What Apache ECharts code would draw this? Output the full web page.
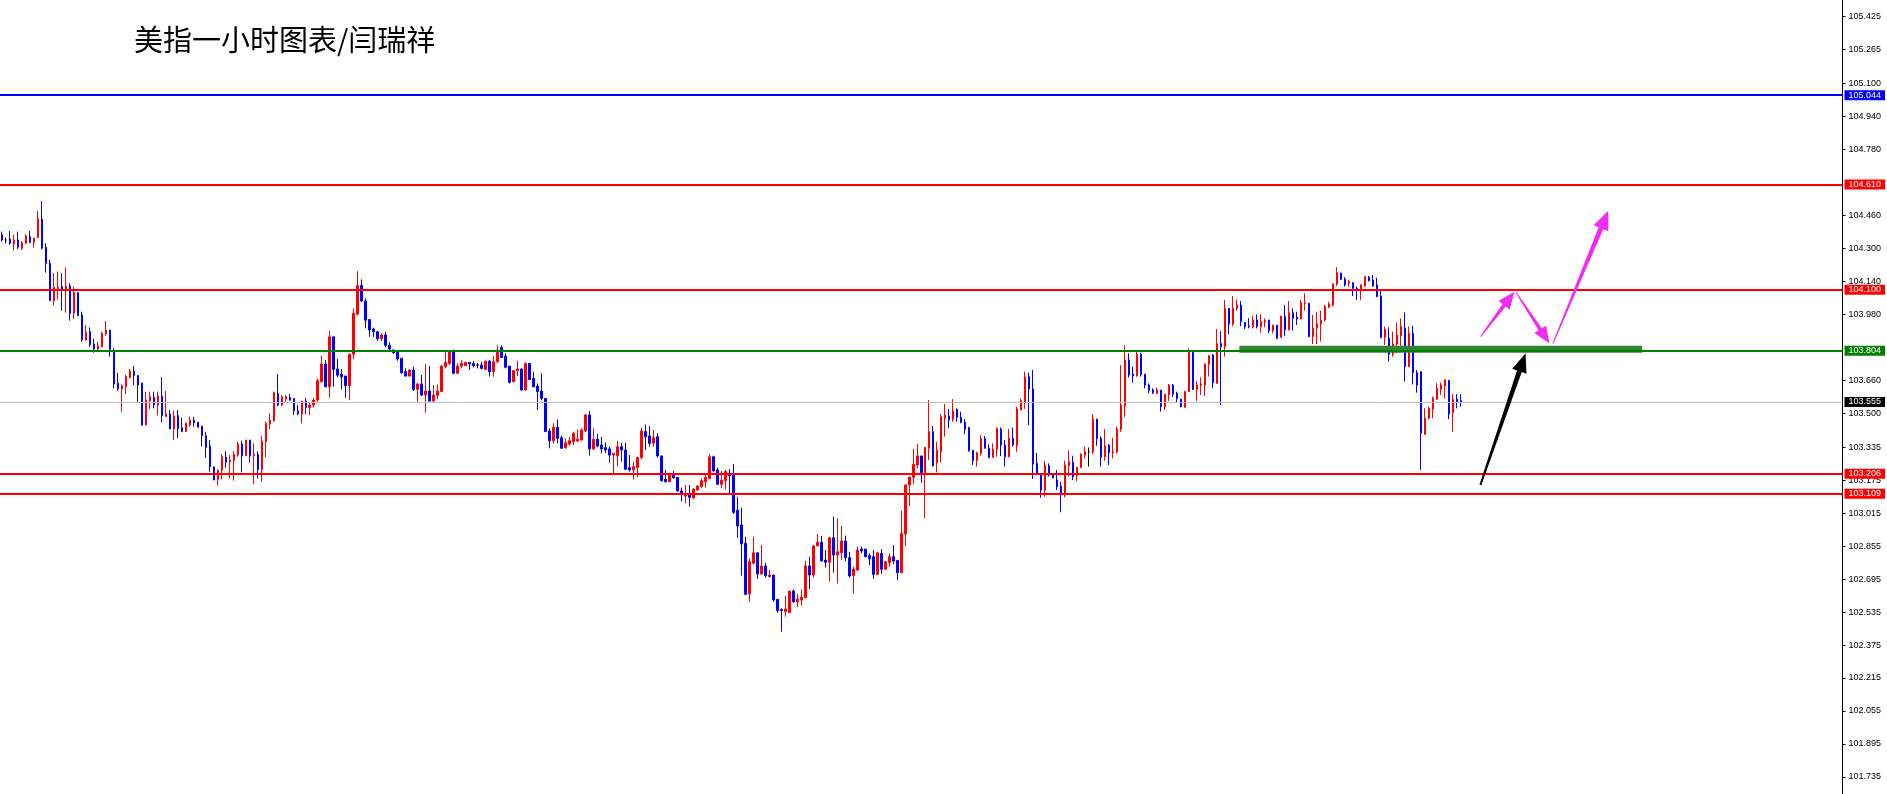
<!DOCTYPE html>
<html>
<head>
<meta charset="utf-8">
<script src="https://cdn.jsdelivr.net/npm/echarts@6/dist/echarts.min.js"></script>
<style>
html,body{margin:0;padding:0;background:#ffffff;}
#chart{width:1887px;height:794px;}
</style>
</head>
<body>
<div id="chart"></div>
<script>
// ---------- DATA (hourly candles) ----------
const opens = [
104.366,104.341,104.346,104.322,104.341,104.301,104.325,104.357,104.330,104.353,
104.442,104.306,104.228,104.047,104.105,104.115,104.102,104.118,103.985,104.086,
103.977,103.856,103.896,103.836,103.812,103.823,103.885,103.904,103.807,103.646,
103.618,103.629,103.673,103.705,103.683,103.646,103.443,103.560,103.578,103.540,
103.584,103.484,103.497,103.424,103.489,103.430,103.411,103.443,103.467,103.456,
103.438,103.391,103.342,103.240,103.179,103.224,103.286,103.265,103.270,103.297,
103.350,103.294,103.370,103.294,103.300,103.227,103.362,103.448,103.464,103.596,
103.540,103.569,103.577,103.572,103.512,103.496,103.559,103.528,103.540,103.564,
103.653,103.739,103.629,103.871,103.715,103.690,103.681,103.634,103.787,103.981,
104.120,104.045,103.955,103.909,103.896,103.862,103.880,103.830,103.807,103.799,
103.767,103.702,103.681,103.710,103.616,103.642,103.589,103.608,103.559,103.587,
103.605,103.726,103.742,103.799,103.694,103.729,103.731,103.747,103.742,103.734,
103.734,103.713,103.753,103.702,103.750,103.820,103.778,103.729,103.653,103.707,
103.715,103.613,103.742,103.669,103.632,103.608,103.572,103.414,103.367,103.432,
103.381,103.333,103.351,103.362,103.365,103.370,103.414,103.492,103.327,103.374,
103.346,103.333,103.327,103.297,103.294,103.338,103.322,103.236,103.225,103.236,
103.285,103.411,103.390,103.354,103.386,103.293,103.181,103.168,103.200,103.189,
103.123,103.098,103.111,103.090,103.128,103.144,103.168,103.184,103.289,103.225,
103.155,103.173,103.209,103.200,103.030,102.958,102.869,102.623,102.772,102.823,
102.720,102.759,102.707,102.715,102.597,102.548,102.537,102.532,102.637,102.585,
102.594,102.605,102.759,102.715,102.856,102.874,102.788,102.777,102.896,102.812,
102.823,102.880,102.799,102.712,102.739,102.841,102.841,102.809,102.804,102.718,
102.820,102.743,102.775,102.804,102.786,102.726,102.914,103.152,103.189,103.249,
103.293,103.212,103.330,103.411,103.260,103.313,103.475,103.486,103.470,103.519,
103.480,103.456,103.430,103.321,103.270,103.305,103.378,103.330,103.286,103.325,
103.423,103.346,103.289,103.378,103.342,103.516,103.556,103.677,103.618,103.257,
103.208,103.127,103.245,103.200,103.176,103.147,103.103,103.245,103.262,103.197,
103.237,103.297,103.313,103.313,103.472,103.378,103.289,103.346,103.308,103.313,
103.423,103.535,103.758,103.690,103.681,103.786,103.690,103.637,103.613,103.597,
103.613,103.532,103.589,103.637,103.597,103.569,103.529,103.605,103.796,103.616,
103.637,103.637,103.738,103.783,103.645,103.839,103.823,104.009,103.933,104.009,
104.025,103.941,103.923,103.920,103.953,103.920,103.943,103.953,103.901,103.928,
103.868,103.969,103.904,103.988,103.966,103.958,104.033,104.034,103.872,103.913,
103.934,103.953,104.016,104.026,104.128,104.180,104.150,104.131,104.134,104.107,
104.096,104.118,104.160,104.147,104.123,104.069,103.869,103.864,103.786,103.836,
103.877,103.913,103.726,103.888,103.697,103.702,103.399,103.476,103.521,103.568,
103.616,103.633,103.659,103.503,103.568,103.561
];
const closes = [
104.341,104.341,104.325,104.341,104.306,104.328,104.361,104.330,104.349,104.446,
104.301,104.228,104.047,104.112,104.112,104.102,104.118,103.985,104.086,103.974,
103.856,103.893,103.832,103.812,103.827,103.888,103.904,103.811,103.642,103.618,
103.633,103.678,103.705,103.683,103.637,103.443,103.565,103.581,103.540,103.584,
103.489,103.497,103.424,103.487,103.424,103.411,103.451,103.468,103.454,103.432,
103.391,103.334,103.240,103.176,103.224,103.289,103.262,103.273,103.300,103.350,
103.294,103.370,103.294,103.302,103.227,103.365,103.451,103.467,103.601,103.540,
103.580,103.580,103.564,103.512,103.496,103.559,103.528,103.540,103.564,103.658,
103.739,103.629,103.871,103.713,103.685,103.677,103.634,103.787,103.985,104.120,
104.045,103.952,103.904,103.896,103.862,103.880,103.830,103.812,103.794,103.763,
103.697,103.681,103.710,103.616,103.642,103.589,103.608,103.559,103.589,103.608,
103.729,103.747,103.799,103.694,103.729,103.742,103.747,103.739,103.731,103.734,
103.718,103.753,103.702,103.750,103.807,103.771,103.723,103.650,103.707,103.715,
103.613,103.742,103.664,103.629,103.605,103.572,103.411,103.367,103.432,103.378,
103.330,103.357,103.367,103.403,103.374,103.419,103.492,103.327,103.374,103.341,
103.327,103.322,103.297,103.306,103.338,103.322,103.228,103.225,103.241,103.285,
103.414,103.386,103.354,103.382,103.293,103.173,103.168,103.200,103.187,103.123,
103.108,103.111,103.092,103.132,103.147,103.173,103.189,103.289,103.220,103.155,
103.176,103.217,103.196,103.019,102.953,102.866,102.621,102.780,102.823,102.720,
102.759,102.712,102.715,102.594,102.542,102.542,102.550,102.637,102.585,102.598,
102.607,102.759,102.715,102.856,102.874,102.783,102.777,102.896,102.812,102.828,
102.880,102.799,102.710,102.744,102.836,102.831,102.804,102.793,102.718,102.823,
102.743,102.780,102.804,102.783,102.726,102.917,103.152,103.189,103.252,103.293,
103.212,103.335,103.411,103.245,103.321,103.483,103.491,103.467,103.511,103.480,
103.456,103.423,103.318,103.270,103.308,103.378,103.330,103.286,103.325,103.427,
103.346,103.289,103.378,103.346,103.521,103.561,103.677,103.618,103.253,103.205,
103.127,103.249,103.200,103.187,103.143,103.103,103.249,103.265,103.192,103.237,
103.302,103.313,103.313,103.472,103.378,103.286,103.341,103.308,103.313,103.423,
103.540,103.758,103.686,103.681,103.786,103.686,103.637,103.610,103.600,103.613,
103.532,103.593,103.637,103.593,103.572,103.532,103.605,103.796,103.616,103.637,
103.642,103.739,103.779,103.648,103.836,103.823,104.009,103.933,104.009,104.025,
103.945,103.920,103.920,103.953,103.920,103.945,103.950,103.901,103.928,103.864,
103.972,103.904,103.988,103.961,103.958,104.037,104.037,103.872,103.913,103.934,
103.953,104.018,104.031,104.128,104.183,104.150,104.123,104.139,104.107,104.096,
104.123,104.163,104.144,104.118,104.066,103.869,103.908,103.786,103.836,103.880,
103.921,103.726,103.888,103.697,103.637,103.403,103.476,103.524,103.573,103.621,
103.637,103.662,103.497,103.568,103.557,103.555
];
const lows = [
104.333,104.325,104.317,104.290,104.298,104.293,104.320,104.325,104.304,104.353,
104.296,104.183,104.047,104.023,104.053,103.998,103.989,103.950,103.958,103.974,
103.848,103.853,103.823,103.794,103.807,103.820,103.877,103.775,103.621,103.610,
103.508,103.592,103.670,103.637,103.553,103.440,103.443,103.521,103.524,103.489,
103.456,103.484,103.424,103.370,103.379,103.411,103.411,103.435,103.435,103.432,
103.338,103.284,103.216,103.176,103.148,103.179,103.236,103.184,103.173,103.289,
103.213,103.294,103.260,103.155,103.184,103.168,103.286,103.423,103.459,103.535,
103.535,103.556,103.561,103.491,103.491,103.451,103.496,103.491,103.528,103.556,
103.649,103.626,103.575,103.629,103.674,103.616,103.575,103.564,103.763,103.975,
104.040,103.912,103.871,103.871,103.850,103.850,103.820,103.800,103.788,103.755,
103.690,103.678,103.678,103.608,103.556,103.584,103.503,103.559,103.556,103.568,
103.605,103.718,103.734,103.689,103.690,103.718,103.729,103.710,103.723,103.718,
103.713,103.713,103.678,103.678,103.745,103.771,103.718,103.645,103.650,103.681,
103.610,103.610,103.661,103.626,103.516,103.564,103.411,103.330,103.354,103.354,
103.327,103.327,103.343,103.346,103.362,103.367,103.408,103.294,103.322,103.335,
103.306,103.306,103.260,103.200,103.241,103.265,103.225,103.217,103.179,103.189,
103.276,103.322,103.338,103.338,103.285,103.168,103.163,103.168,103.184,103.120,
103.071,103.063,103.047,103.082,103.123,103.139,103.139,103.179,103.217,103.155,
103.136,103.131,103.103,103.011,102.896,102.712,102.618,102.585,102.767,102.696,
102.718,102.702,102.702,102.585,102.532,102.440,102.513,102.532,102.580,102.561,
102.566,102.605,102.647,102.702,102.856,102.780,102.751,102.683,102.726,102.674,
102.788,102.783,102.702,102.626,102.734,102.820,102.801,102.763,102.696,102.718,
102.720,102.739,102.755,102.767,102.691,102.726,102.856,103.050,103.155,103.233,
103.163,102.990,103.273,103.241,103.213,103.262,103.386,103.427,103.459,103.459,
103.451,103.399,103.313,103.249,103.241,103.294,103.330,103.281,103.286,103.289,
103.292,103.241,103.286,103.338,103.313,103.516,103.521,103.443,103.181,103.200,
103.090,103.095,103.192,103.184,103.127,103.019,103.092,103.192,103.176,103.171,
103.233,103.281,103.241,103.302,103.342,103.241,103.270,103.249,103.281,103.305,
103.410,103.483,103.674,103.648,103.678,103.678,103.621,103.597,103.593,103.593,
103.508,103.516,103.559,103.580,103.551,103.529,103.527,103.605,103.613,103.559,
103.589,103.584,103.678,103.621,103.645,103.540,103.775,103.885,103.923,103.998,
103.923,103.909,103.912,103.912,103.912,103.891,103.917,103.888,103.888,103.859,
103.868,103.875,103.904,103.901,103.928,103.956,103.998,103.869,103.836,103.836,
103.848,103.945,104.010,104.018,104.118,104.147,104.115,104.115,104.069,104.050,
104.050,104.115,104.139,104.115,104.066,103.864,103.832,103.751,103.775,103.791,
103.827,103.654,103.726,103.640,103.600,103.225,103.395,103.471,103.476,103.565,
103.589,103.573,103.471,103.411,103.524,103.532
];
const highs = [
104.382,104.353,104.385,104.366,104.382,104.336,104.369,104.385,104.353,104.482,
104.531,104.325,104.244,104.180,104.188,104.180,104.207,104.131,104.115,104.086,
103.993,103.929,103.917,103.861,103.848,103.896,103.948,103.904,103.815,103.697,
103.641,103.686,103.715,103.730,103.683,103.649,103.605,103.605,103.605,103.605,
103.675,103.608,103.516,103.513,103.516,103.479,103.456,103.484,103.483,103.456,
103.438,103.410,103.370,103.240,103.227,103.302,103.316,103.297,103.316,103.362,
103.367,103.370,103.370,103.354,103.316,103.391,103.459,103.499,103.605,103.690,
103.588,103.588,103.593,103.572,103.540,103.559,103.575,103.551,103.575,103.669,
103.779,103.758,103.899,103.871,103.763,103.715,103.681,103.787,104.009,104.190,
104.150,104.058,103.955,103.915,103.900,103.890,103.895,103.845,103.810,103.800,
103.767,103.718,103.715,103.726,103.648,103.686,103.739,103.729,103.637,103.640,
103.734,103.799,103.802,103.810,103.742,103.758,103.750,103.747,103.754,103.745,
103.750,103.755,103.758,103.778,103.830,103.830,103.791,103.729,103.710,103.755,
103.718,103.747,103.742,103.702,103.645,103.694,103.572,103.427,103.451,103.470,
103.390,103.378,103.386,103.411,103.422,103.427,103.497,103.511,103.427,103.400,
103.386,103.359,103.338,103.306,103.365,103.357,103.357,103.297,103.265,103.289,
103.430,103.446,103.438,103.419,103.403,103.293,103.225,103.205,103.220,103.189,
103.139,103.152,103.152,103.136,103.152,103.184,103.200,103.302,103.294,103.236,
103.220,103.225,103.230,103.254,103.095,103.043,102.901,102.796,102.901,102.823,
102.861,102.775,102.739,102.715,102.597,102.553,102.613,102.637,102.645,102.623,
102.645,102.783,102.804,102.861,102.914,102.904,102.836,102.901,102.998,102.990,
102.953,102.906,102.828,102.755,102.853,102.853,102.841,102.820,102.836,102.828,
102.841,102.783,102.820,102.861,102.786,103.027,103.152,103.195,103.327,103.351,
103.293,103.335,103.564,103.438,103.362,103.496,103.545,103.521,103.569,103.524,
103.508,103.472,103.435,103.321,103.313,103.394,103.389,103.349,103.354,103.431,
103.431,103.370,103.423,103.431,103.532,103.572,103.702,103.697,103.710,103.308,
103.208,103.270,103.257,103.208,103.224,103.168,103.270,103.321,103.294,103.241,
103.305,103.338,103.334,103.496,103.472,103.389,103.423,103.350,103.381,103.435,
103.734,103.831,103.791,103.726,103.802,103.794,103.690,103.645,103.621,103.626,
103.613,103.593,103.642,103.642,103.605,103.569,103.610,103.815,103.796,103.658,
103.674,103.742,103.783,103.788,103.909,103.899,104.050,104.009,104.069,104.053,
104.045,103.941,103.961,103.972,103.980,103.980,103.961,103.953,103.928,103.928,
103.972,104.025,104.045,104.009,103.993,104.050,104.082,104.034,103.977,103.993,
103.998,104.026,104.042,104.131,104.209,104.183,104.160,104.147,104.136,104.115,
104.126,104.166,104.166,104.171,104.158,104.099,103.921,103.917,103.896,103.940,
103.961,103.990,103.921,103.924,103.710,103.702,103.524,103.532,103.581,103.646,
103.649,103.665,103.662,103.594,103.594,103.594
];

// bar slots on the time axis (candles + empty future hours up to the price scale)
const slotCount = 461;
const categories = Array.from({length: slotCount}, (_, i) => String(i));

// price-scale tick labels
const yTicks = [105.425,105.265,105.100,104.940,104.780,104.460,104.300,104.140,103.980,
  103.660,103.500,103.335,103.175,103.015,102.855,102.695,102.535,102.375,102.215,
  102.055,101.895,101.735];
const yMin = 101.652;
const yMax = 105.506;

// horizontal price levels
const levelValues = [105.044, 104.610, 104.100, 103.804, 103.555, 103.206, 103.109];

// support zone (bar index range, price range)
const zoneStart = [309.6];
const zoneEnd = [410.4];
const zoneLow = [103.794];
const zoneHigh = [103.828];

// arrows (bar index, price) from -> to
const arrowFromIdx = [369.95, 378.7, 388.05, 369.9];
const arrowFromPrice = [103.872, 104.090, 103.839, 103.152];
const arrowToIdx = [378.4, 387.2, 401.9, 381.2];
const arrowToPrice = [104.090, 103.839, 104.483, 103.791];

// ---------- STYLES ----------
const levelColors = ['#0000FF','#FF0000','#FF0000','#008000','#C0C0C0','#FF0000','#FF0000'];
const levelLabelBg = ['#0000FF','#FF0000','#FF0000','#008000','#000000','#FF0000','#FF0000'];
const levelWidths = [2,2,2,2,1,2,2];
const arrowColors = ['#F02CF0','#F02CF0','#F02CF0','#000000'];
const arrowGeom = [
  {tail:1, shaft:4, head:17, half:7},
  {tail:1, shaft:4, head:17, half:7},
  {tail:1, shaft:5, head:19, half:8},
  {tail:2, shaft:5, head:19, half:7.5}
];

const candleData = opens.map((o, i) => [o, closes[i], lows[i], highs[i]]);
const arrowData = arrowFromIdx.map((x, i) => [x, arrowFromPrice[i], arrowToIdx[i], arrowToPrice[i]]);
const zoneData = zoneStart.map((x, i) => [x, zoneLow[i], zoneEnd[i], zoneHigh[i]]);

function arrowPolygon(p0, p1, g) {
  const dx = p1[0] - p0[0], dy = p1[1] - p0[1];
  const L = Math.hypot(dx, dy);
  const ux = dx / L, uy = dy / L, nx = -uy, ny = ux;
  const bx = p1[0] - ux * g.head, by = p1[1] - uy * g.head;
  return [
    [p0[0] + nx * g.tail / 2, p0[1] + ny * g.tail / 2],
    [bx + nx * g.shaft / 2, by + ny * g.shaft / 2],
    [bx + nx * g.half, by + ny * g.half],
    [p1[0], p1[1]],
    [bx - nx * g.half, by - ny * g.half],
    [bx - nx * g.shaft / 2, by - ny * g.shaft / 2],
    [p0[0] - nx * g.tail / 2, p0[1] - ny * g.tail / 2]
  ];
}

const chart = echarts.init(document.getElementById('chart'), null, {renderer: 'canvas'});
chart.setOption({
  animation: false,
  backgroundColor: '#ffffff',
  title: {
    text: '美指一小时图表/闫瑞祥',
    left: 134, top: 25.5, padding: 0,
    textStyle: {fontFamily: 'Noto Sans CJK SC', fontSize: 29, lineHeight: 29, fontWeight: 'normal', color: '#000000'}
  },
  grid: {left: -1.5, right: 44.5, top: 0, bottom: 0, containLabel: false},
  xAxis: [
    {type: 'category', data: categories, boundaryGap: true, show: false},
    {type: 'value', min: -0.5, max: slotCount - 0.5, show: false}
  ],
  yAxis: {
    type: 'value', position: 'right', min: yMin, max: yMax,
    splitLine: {show: false},
    axisLine: {show: true, onZero: false, lineStyle: {color: '#000000', width: 1}},
    axisTick: {show: true, length: 3, customValues: yTicks, lineStyle: {color: '#000000'}},
    axisLabel: {
      customValues: yTicks, margin: 6, color: '#000000',
      fontFamily: 'Liberation Sans', fontSize: 9,
      formatter: v => v.toFixed(3)
    }
  },
  series: [
    {
      type: 'candlestick',
      xAxisIndex: 0, yAxisIndex: 0,
      data: candleData,
      barWidth: 2,
      silent: true,
      itemStyle: {
        color: '#FF0000', color0: '#0000FF',
        borderColor: '#FF0000', borderColor0: '#0000FF', borderColorDoji: '#000000',
        borderWidth: 1
      },
      markLine: {
        silent: true,
        symbol: ['none', 'none'],
        precision: 3,
        animation: false,
        data: levelValues.map((v, k) => ({
          yAxis: v,
          lineStyle: {color: levelColors[k], width: levelWidths[k], type: 'solid'},
          label: {
            show: true, position: 'end', distance: 2,
            formatter: () => levelValues[k].toFixed(3),
            color: '#ffffff', backgroundColor: levelLabelBg[k],
            fontFamily: 'Liberation Sans', fontSize: 9, lineHeight: 10,
            padding: [0, 4, 0, 4]
          }
        }))
      }
    },
    {
      type: 'custom',
      xAxisIndex: 1, yAxisIndex: 0,
      silent: true, z: 4,
      data: zoneData,
      encode: {x: [0, 2], y: [1, 3]},
      renderItem: (params, api) => {
        const a = api.coord([api.value(0), api.value(3)]);
        const b = api.coord([api.value(2), api.value(1)]);
        return {type: 'rect', shape: {x: a[0], y: a[1], width: b[0] - a[0], height: b[1] - a[1]},
          style: {fill: '#2F8534'}};
      }
    },
    {
      type: 'custom',
      xAxisIndex: 1, yAxisIndex: 0,
      silent: true, z: 6,
      data: arrowData,
      encode: {x: [0, 2], y: [1, 3]},
      renderItem: (params, api) => {
        const p0 = api.coord([api.value(0), api.value(1)]);
        const p1 = api.coord([api.value(2), api.value(3)]);
        return {type: 'polygon', shape: {points: arrowPolygon(p0, p1, arrowGeom[params.dataIndex])},
          style: {fill: arrowColors[params.dataIndex]}};
      }
    }
  ]
});
</script>
</body>
</html>
